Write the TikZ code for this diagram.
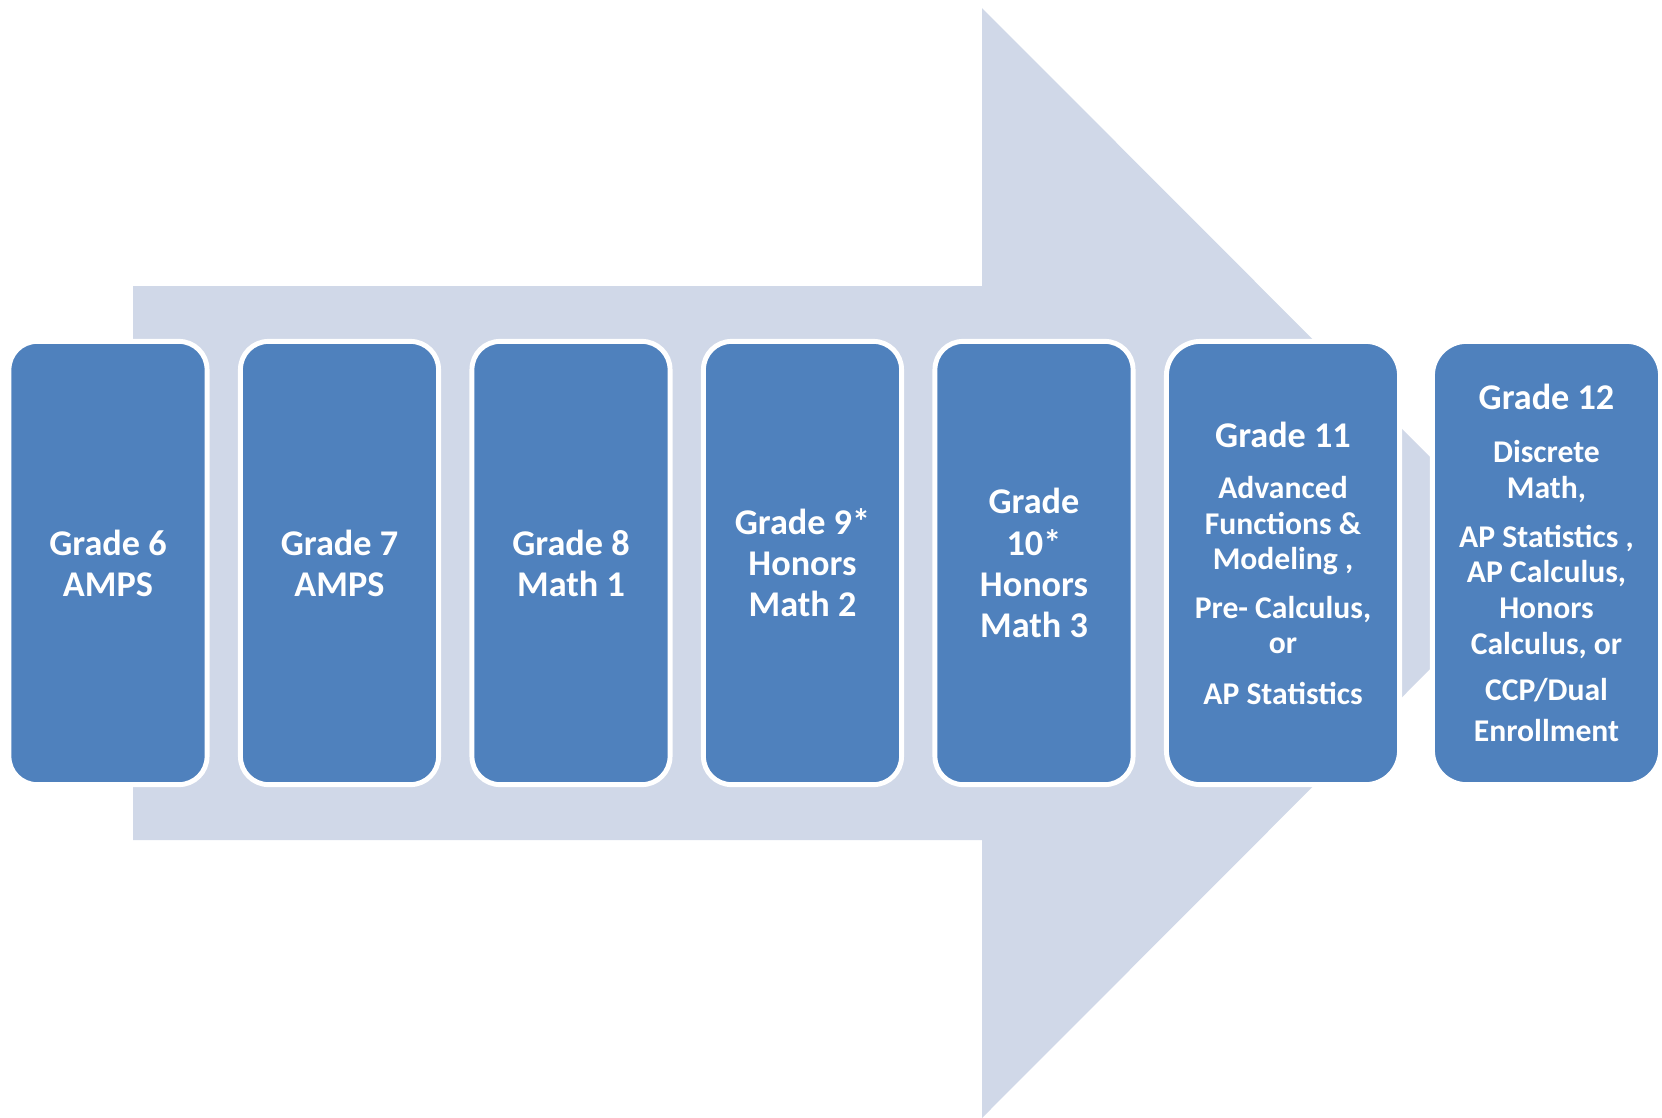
\documentclass[tikz,border=0pt]{standalone}
\usepackage{fontspec}
\setmainfont{Carlito}
\definecolor{boxblue}{HTML}{4F81BD}
\definecolor{arrowgray}{HTML}{D0D8E8}
\newcommand{\gradefont}{\fontsize{10.3}{11.7}\selectfont}
\newcommand{\coursefont}{\fontsize{9}{10.15}\selectfont}

\begin{document}
\begin{tikzpicture}[x=0.01cm, y=-0.01cm,
    grade/.style={draw=white, line width=1.4pt, fill=boxblue, rounded corners=8pt,
      minimum width=1.98cm, minimum height=4.43cm, inner sep=0pt,
      text=white, font=\bfseries\gradefont, align=flush center, text width=1.9cm},
    widegrade/.style={grade, rounded corners=9.7pt, text width=2.15cm}]
  \useasboundingbox (0,0) rectangle (1662,1117);
  \fill[arrowgray] (133,286) -- (982,286) -- (982,8) -- (1536,563) -- (982,1118)
    -- (982,840) -- (133,840) -- cycle;
  \node[grade] (g6) at (108,563) {Grade 6\\AMPS};
  \node[grade] (g7) at (339.5,563) {Grade 7\\AMPS};
  \node[grade] (g8) at (571,563) {Grade 8\\Math 1};
  \node[grade] (g9) at (802.5,563) {Grade 9*\\Honors\\Math 2};
  \node[grade] (g10) at (1034,563) {Grade\\10*\\Honors\\Math 3};
  \node[widegrade, minimum width=2.33cm] (g11) at (1283,563) {Grade 11\par
    \vspace{4.4pt}\coursefont Advanced\\Functions \&\\Modeling ,\par
    \vspace{3.6pt}Pre- Calculus,\\or\par
    \vspace{2.6pt}AP Statistics};
  \node[widegrade, minimum width=2.28cm] (g12) at (1546.5,563) {Grade 12\par
    \vspace{5pt}\coursefont Discrete\\Math,\par
    \vspace{3.6pt}AP Statistics ,\\AP Calculus,\\Honors\\Calculus, or\par
    \vspace{3pt}CCP/Dual\\Enrollment};
\end{tikzpicture}
\end{document}
